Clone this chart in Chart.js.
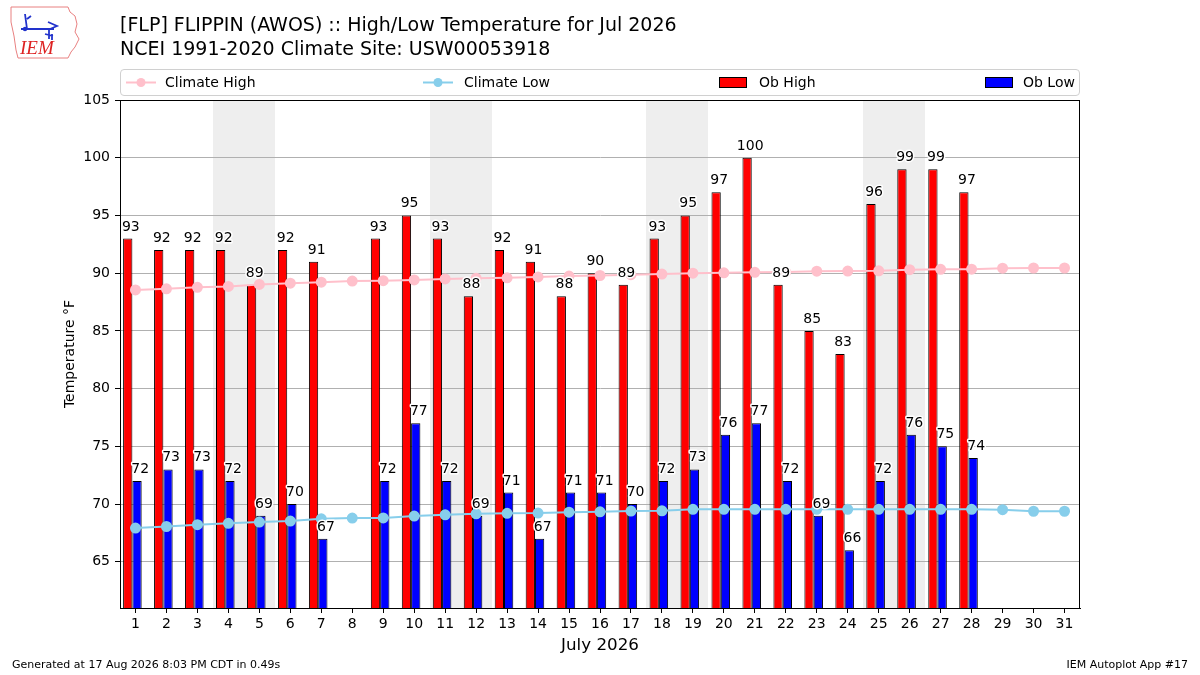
<!DOCTYPE html>
<html><head><meta charset="utf-8">
<script src="https://cdn.jsdelivr.net/npm/chart.js@4/dist/chart.umd.min.js"></script>
<style>
html,body{margin:0;padding:0;background:#fff;}
#wrap{position:relative;width:1200px;height:675px;font-family:"DejaVu Sans",sans-serif;color:#000;overflow:hidden;}
#c{position:absolute;left:0;top:0;}
.t{position:absolute;white-space:nowrap;}
#legend{position:absolute;left:120px;top:69px;width:958px;height:25px;border:1px solid #d0d0d0;border-radius:4px;background:rgba(255,255,255,0.8);}
.li{position:absolute;top:0;height:25px;line-height:25px;font-size:14px;white-space:nowrap;}
</style></head><body>
<div id="wrap">
<canvas id="c" width="1200" height="675"></canvas>
<svg class="t" style="left:8px;top:4px" width="74" height="56" viewBox="0 0 74 56">
  <path d="M3,3 L60,3 L62,8 L67,12 L69,20 L67,28 L71,35 L67,43 L63,48 L60,54 L10,54 L8,46 L6,32 L3,18 Z" fill="none" stroke="#e88080" stroke-width="1"/>
  <path d="M13,25 L46,25 M17,10 L19,25 M19,15 L23,12 M40,18 L49,22 L42,25 M41,25 L41,35 M37,30 L45,32 M44,30 L44,36" fill="none" stroke="#2233cc" stroke-width="1.8"/>
  <circle cx="17" cy="25" r="2.2" fill="#2233cc"/>
  <text x="12" y="50" font-family="Liberation Serif, serif" font-style="italic" font-size="19" fill="#dd2222">IEM</text>
</svg>
<div class="t" style="left:120px;top:12px;font-size:19px;line-height:24px;">[FLP] FLIPPIN (AWOS) :: High/Low Temperature for Jul 2026<br>NCEI 1991-2020 Climate Site: USW00053918</div>
<div id="legend">
  <div class="li" style="left:5px;width:30px;"><svg width="30" height="25"><line x1="0" y1="12.5" x2="30" y2="12.5" stroke="#FFC0CB" stroke-width="2"/><circle cx="15" cy="12.5" r="4.5" fill="#FFC0CB"/></svg></div>
  <div class="li" style="left:44px;">Climate High</div>
  <div class="li" style="left:302px;width:30px;"><svg width="30" height="25"><line x1="0" y1="12.5" x2="30" y2="12.5" stroke="#87CEEB" stroke-width="2"/><circle cx="15" cy="12.5" r="4.5" fill="#87CEEB"/></svg></div>
  <div class="li" style="left:343px;">Climate Low</div>
  <div class="li" style="left:598px;width:28px;"><svg width="28" height="25"><rect x="0.5" y="7.5" width="27" height="10" fill="#ff0000" stroke="#000" stroke-width="1"/></svg></div>
  <div class="li" style="left:638px;">Ob High</div>
  <div class="li" style="left:864px;width:28px;"><svg width="28" height="25"><rect x="0.5" y="7.5" width="27" height="10" fill="#0000ff" stroke="#000" stroke-width="1"/></svg></div>
  <div class="li" style="left:902px;">Ob Low</div>
</div>
<div class="t" style="left:12px;top:658px;font-size:11px;line-height:14px;">Generated at 17 Aug 2026 8:03 PM CDT in 0.49s</div>
<div class="t" style="right:12px;top:658px;font-size:11px;line-height:14px;">IEM Autoplot App #17</div>
</div>
<script>
const days = [1,2,3,4,5,6,7,8,9,10,11,12,13,14,15,16,17,18,19,20,21,22,23,24,25,26,27,28,29,30,31];
const obHigh = [93,92,92,92,89,92,91,null,93,95,93,88,92,91,88,90,89,93,95,97,100,89,85,83,96,99,99,97,null,null,null];
const obLow  = [72,73,73,72,69,70,67,null,72,77,72,69,71,67,71,71,70,72,73,76,77,72,69,66,72,76,75,74,null,null,null];
const climHigh = [88.55,88.65,88.78,88.85,89.03,89.13,89.22,89.32,89.35,89.42,89.5,89.56,89.6,89.68,89.75,89.8,89.87,89.92,90.0,90.03,90.07,90.1,90.17,90.18,90.2,90.3,90.33,90.35,90.43,90.45,90.45];
const climLow  = [67.92,68.06,68.22,68.33,68.44,68.53,68.72,68.79,68.8,68.96,69.07,69.16,69.2,69.22,69.3,69.33,69.4,69.42,69.55,69.55,69.55,69.55,69.55,69.55,69.55,69.55,69.55,69.55,69.52,69.38,69.38];
const weekendDays = [4,5,11,12,18,19,25,26];
const yTicks = [65,70,75,80,85,90,95,100,105];

const FONT = "DejaVu Sans";
const toPts = (arr, shift) => days.map((d,i)=>arr[i]==null?null:{x:d+shift,y:arr[i]}).filter(p=>p);

const shadePlugin = {
  id:'shade',
  beforeDraw(chart){
    const {ctx, chartArea:a, scales:{x}} = chart;
    // merge consecutive weekend days into spans
    const spans = [];
    weekendDays.forEach(d=>{
      const last = spans[spans.length-1];
      if(last && last[1] === d-1) last[1] = d; else spans.push([d,d]);
    });
    ctx.save();
    ctx.fillStyle = '#eeeeee';
    spans.forEach(([s,e])=>{
      const x0 = Math.round(x.getPixelForValue(s-0.5)), x1 = Math.round(x.getPixelForValue(e+0.5));
      ctx.fillRect(x0, a.top, x1-x0, a.bottom-a.top);
    });
    ctx.restore();
  }
};
const labelPlugin = {
  id:'labels',
  afterDatasetsDraw(chart){
    const {ctx, scales:{x,y}} = chart;
    ctx.save();
    ctx.font = '14px "'+FONT+'"';
    ctx.textAlign='center'; ctx.textBaseline='alphabetic';
    ctx.lineJoin='round'; ctx.strokeStyle='#fff'; ctx.lineWidth=3; ctx.fillStyle='#000';
    const put=(txt,px,py)=>{ctx.strokeText(txt,px,py);ctx.fillText(txt,px,py);};
    days.forEach((d,i)=>{
      if(obHigh[i]!=null) put(String(obHigh[i]), x.getPixelForValue(d-0.15), y.getPixelForValue(obHigh[i])-8);
      if(obLow[i]!=null) put(String(obLow[i]), x.getPixelForValue(d+0.15), y.getPixelForValue(obLow[i])-8);
    });
    ctx.restore();
  },
  afterDraw(chart){
    const {ctx, chartArea:a} = chart;
    ctx.save(); ctx.strokeStyle='#000'; ctx.lineWidth=1;
    ctx.strokeRect(Math.round(a.left)+0.5, Math.round(a.top)+0.5, Math.round(a.right-a.left)-1, Math.round(a.bottom-a.top));
    ctx.restore();
  }
};

new Chart(document.getElementById('c'), {
  type:'bar',
  data:{datasets:[
    {type:'line', label:'Climate High', data:toPts(climHigh,0), borderColor:'#FFC0CB', backgroundColor:'#FFC0CB', pointBackgroundColor:'#FFC0CB', pointBorderColor:'#FFC0CB', pointRadius:4.5, borderWidth:2, order:0},
    {type:'line', label:'Climate Low', data:toPts(climLow,0), borderColor:'#87CEEB', backgroundColor:'#87CEEB', pointBackgroundColor:'#87CEEB', pointBorderColor:'#87CEEB', pointRadius:4.5, borderWidth:2, order:0},
    {type:'bar', label:'Ob High', data:toPts(obHigh,-0.1), backgroundColor:'#ff0000', borderColor:'#000', borderWidth:1, borderSkipped:false, categoryPercentage:0.6, barPercentage:1.0, order:1},
    {type:'bar', label:'Ob Low', data:toPts(obLow,-0.1), backgroundColor:'#0000ff', borderColor:'#000', borderWidth:1, borderSkipped:false, categoryPercentage:0.6, barPercentage:1.0, order:1}
  ]},
  options:{
    responsive:false, animation:false, devicePixelRatio:1,
    layout:{padding:{left:58,right:120,top:100,bottom:16}},
    plugins:{legend:{display:false}, tooltip:{enabled:false}, title:{display:false}},
    scales:{
      x:{type:'linear', min:0.5, max:31.5, offset:false,
        afterBuildTicks(s){ s.ticks = days.map(v=>({value:v})); },
        afterFit(s){ s.height = 51; },
        grid:{drawOnChartArea:false, drawTicks:true, tickLength:5, tickColor:'#000', offset:false},
        border:{display:true,color:'#000',width:1},
        ticks:{autoSkip:false, maxRotation:0, padding:3, color:'#000', font:{family:FONT,size:14}},
        title:{display:true,text:'July 2026',color:'#000',font:{family:FONT,size:16.7},padding:{top:4,bottom:3}}
      },
      y:{type:'linear', min:61, max:105,
        afterBuildTicks(s){ s.ticks = yTicks.map(v=>({value:v})); },
        afterFit(s){ s.width = 62; },
        grid:{color:'#b0b0b0', lineWidth:1, drawTicks:true, tickLength:5, tickColor:'#000'},
        border:{display:true,color:'#000',width:1},
        ticks:{padding:5, color:'#000', font:{family:FONT,size:14}},
        title:{display:true,text:'Temperature °F',color:'#000',font:{family:FONT,size:14},padding:{top:4,bottom:4}}
      }
    }
  },
  plugins:[shadePlugin,labelPlugin]
});
</script>
</body></html>
